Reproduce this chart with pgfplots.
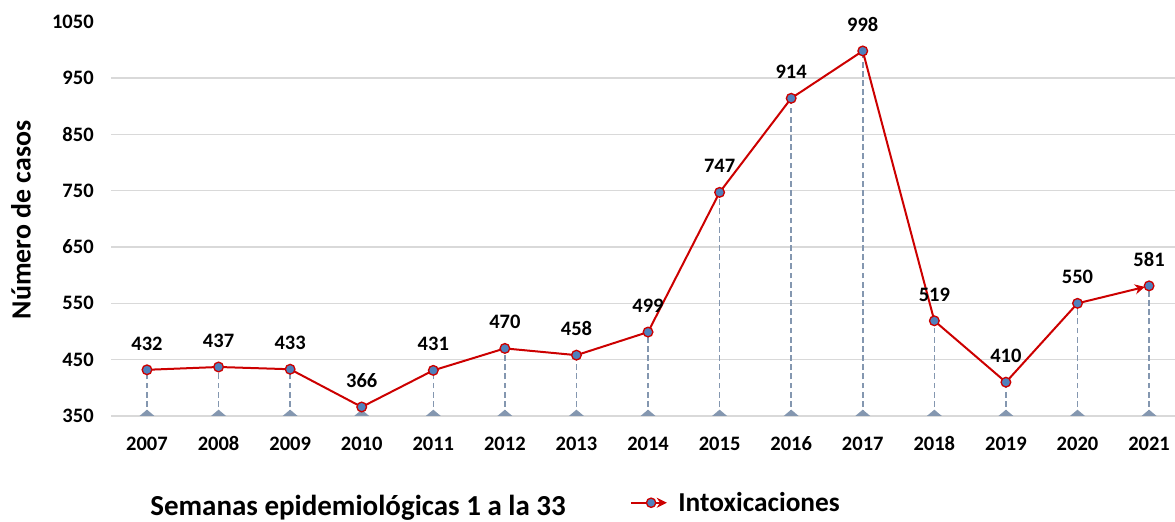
\documentclass[border=0pt]{standalone}
\usepackage{pgfplots}
\usepackage{pgfplotstable}
\pgfplotsset{compat=1.18}
\usepackage{fontspec}
\setmainfont{Carlito}
\usetikzlibrary{arrows.meta}
\definecolor{redC}{HTML}{CC0000}
\definecolor{blueC}{HTML}{4F81BD}
\definecolor{dropC}{HTML}{8497B0}
\definecolor{gridC}{HTML}{D9D9D9}
\pgfdeclareplotmark{basetri}{%
  \pgfpathmoveto{\pgfqpoint{-4.5pt}{0pt}}%
  \pgfpathlineto{\pgfqpoint{4.5pt}{0pt}}%
  \pgfpathlineto{\pgfqpoint{0pt}{3.8pt}}%
  \pgfpathclose\pgfusepathqfill}
\pgfplotstableread{
x year val
0 2007 432
1 2008 437
2 2009 433
3 2010 366
4 2011 431
5 2012 470
6 2013 458
7 2014 499
8 2015 747
9 2016 914
10 2017 998
11 2018 519
12 2019 410
13 2020 550
14 2021 581
}\datatable
\begin{document}
\begin{tikzpicture}
\begin{axis}[
  scale only axis,
  width=644.2pt, height=236.6pt,
  xmin=-0.5, xmax=14.5,
  ymin=350, ymax=1050,
  ytick={350,450,...,1050},
  extra y ticks={350,450,...,950},
  extra y tick labels={},
  extra y tick style={grid=major, major grid style={draw=gridC, line width=0.9pt}},
  xtick={0,...,14},
  xticklabels={2007,2008,2009,2010,2011,2012,2013,2014,2015,2016,2017,2018,2019,2020,2021},
  axis line style={draw=none},
  major tick length=0pt,
  tick label style={font=\fontsize{12.3}{14}\selectfont\bfseries},
  /pgf/number format/assume math mode=true,
  /pgf/number format/1000 sep={},
  yticklabel style={xshift=-7pt},
  xticklabel style={yshift=-9pt, text height=8pt, text depth=0pt},
  ylabel={Número de casos},
  ylabel style={at={(axis description cs:-0.084,0.497)}, anchor=center, font=\fontsize{16.7}{19}\selectfont\bfseries},
  legend style={at={(axis description cs:0.483,-0.22)}, anchor=west, draw=none, fill=none,
    font=\fontsize{16.4}{19}\selectfont\bfseries, inner sep=0pt},
  legend image code/.code={%
    \draw[redC, line width=1.2pt, -{Stealth[length=6pt,width=6pt]}] (0pt,0pt) -- (24pt,0pt);
    \draw[fill=blueC, draw=redC, line width=0.8pt] (12pt,0pt) circle (2.8pt);
    \path[-, draw=none, fill=none] (0pt,-0.5pt) rectangle (26.4pt,0.5pt);
  },
  clip=true,
]
\addplot[dropC, line width=0.9pt, dash pattern=on 3.5pt off 2pt, ycomb, forget plot] table[x=x,y=val] {\datatable};
\addplot[only marks, mark=basetri, color=dropC, forget plot] coordinates {(0,350)(1,350)(2,350)(3,350)(4,350)(5,350)(6,350)(7,350)(8,350)(9,350)(10,350)(11,350)(12,350)(13,350)(14,350)};
\addplot[redC, line width=1.2pt, -{Stealth[length=6pt,width=6pt]}, shorten >=2.6pt] table[x=x,y=val] {\datatable};
\addlegendentry{Intoxicaciones}
\addplot[only marks, mark=*, mark size=2.9pt, mark options={fill=blueC, draw=redC, line width=0.8pt},
  nodes near coords, nodes near coords style={font=\fontsize{12.3}{14}\selectfont\bfseries, text=black, yshift=8pt},
  point meta=explicit symbolic, forget plot] table[x=x,y=val,meta=val] {\datatable};
\end{axis}
\node[font=\fontsize{17.4}{20}\selectfont\bfseries] at (148.1pt,-55pt) {Semanas epidemiológicas 1 a la 33};
\pgfresetboundingbox
\path (-66.72pt,-63.6pt) rectangle (638.28pt,249.6pt);
\end{tikzpicture}
\end{document}
